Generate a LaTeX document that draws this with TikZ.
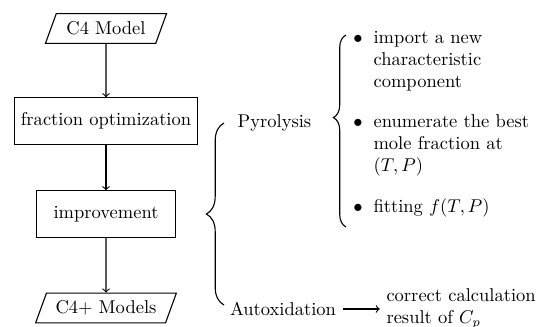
\documentclass[tikz,border=0pt]{standalone}
\usepackage{amsmath, amssymb}
\usepackage{tikz}
\usetikzlibrary{shapes.geometric}
\usetikzlibrary{arrows}
\usetikzlibrary{positioning}
\usetikzlibrary{decorations.pathreplacing}

\tikzset{
	io/.style={draw, trapezium, trapezium left angle=70, trapezium right angle=110, minimum height=16pt, inner xsep=2pt},
	block/.style={draw, rectangle, minimum height=25pt},
	item/.style={align=left, anchor=north west, inner sep=0pt},
	bul/.style={anchor=base, inner sep=0pt},
	curly/.style={decorate, decoration={brace, amplitude=#1}}
}

\begin{document}
\begin{tikzpicture}[x=0.54pt, y=-0.54pt, semithick]
		\useasboundingbox (0,0) rectangle (547,326);
		% flow chart
		\node [io, minimum width=60pt] (c4) at (106,28.5) {C4 Model};
		\node [block] (frac) at (106,121) {fraction optimization};
		\node [block, minimum width=75pt] (impr) at (106,214) {improvement};
		\node [io, minimum width=68pt] (c4p) at (106,308) {C4+ Models};
		\draw [->] (c4) -- (frac);
		\draw [->] (frac) -- (impr);
		\draw [->] (impr) -- (c4p);
		% the two ways
		\draw [curly=9.5pt] (224,305) -- (224,123);
		\node [anchor=base] (pyro) at (274.5,127) {Pyrolysis};
		\node [anchor=base] (auto) at (283,315.5) {Autoxidation};
		\node [right=20pt of auto, align=left] (res) {correct calculation\\result of $C_p$};
		\draw [->] (auto) -- (res);
		% pyrolysis steps
		\draw [curly=6.8pt, decoration={aspect=0.57}] (346,227) -- (346,35);
		\node [bul] (b1) at (358,43) {$\bullet$};
		\node [item] (it1) at (373,30.5) {import a new\\characteristic\\component};
		\node [bul] (b2) at (358,127) {$\bullet$};
		\node [item] (it2) at (373,114) {enumerate the best\\mole fraction at\\$(T,P)$};
		\node [bul] (b3) at (358,212) {$\bullet$};
		\node [item, anchor=base west] (it3) at (373,212) {fitting $f(T,P)$};
	\end{tikzpicture}
\end{document}
